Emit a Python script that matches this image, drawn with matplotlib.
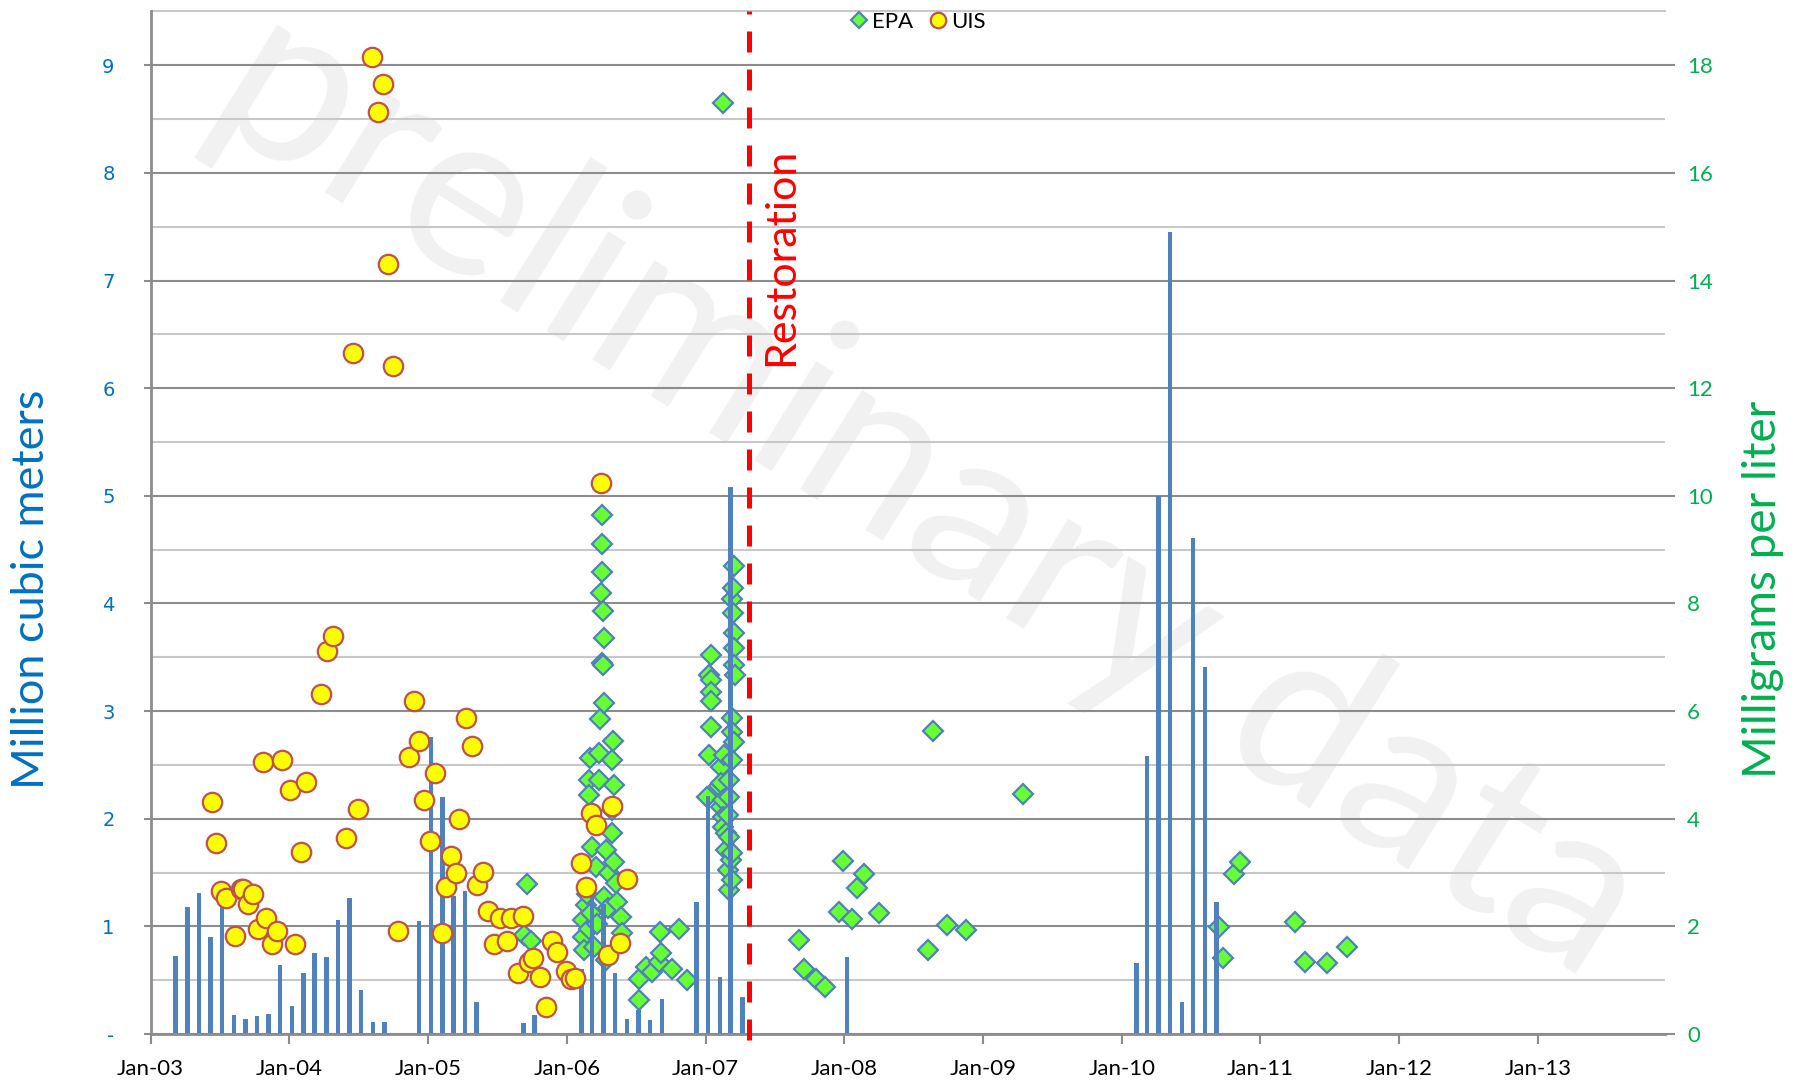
import matplotlib
matplotlib.use('Agg')
import matplotlib.pyplot as plt
import matplotlib.dates as mdates
from matplotlib.ticker import MultipleLocator, FuncFormatter
import pandas as pd

plt.rcParams['font.family'] = ['Lato', 'DejaVu Sans']

# --- Monthly volume, million cubic meters (left axis) ---
bar_months = ['2003-03', '2003-04', '2003-05', '2003-06', '2003-07', '2003-08',
              '2003-09', '2003-10', '2003-11', '2003-12',
              '2004-01', '2004-02', '2004-03', '2004-04', '2004-05', '2004-06',
              '2004-07', '2004-08', '2004-09', '2004-12',
              '2005-01', '2005-02', '2005-03', '2005-04', '2005-05', '2005-09', '2005-10',
              '2006-02', '2006-03', '2006-04', '2006-05', '2006-06', '2006-07',
              '2006-08', '2006-09', '2006-12',
              '2007-01', '2007-02', '2007-03', '2007-04',
              '2008-01',
              '2010-02', '2010-03', '2010-04', '2010-05', '2010-06', '2010-07',
              '2010-08', '2010-09']
bar_values = [0.725, 1.18, 1.31, 0.90, 1.32, 0.18,
              0.14, 0.17, 0.19, 0.64,
              0.26, 0.57, 0.75, 0.72, 1.06, 1.26,
              0.41, 0.115, 0.11, 1.05,
              2.76, 2.20, 1.28, 1.33, 0.30, 0.105, 0.18,
              0.60, 1.32, 1.21, 0.57, 0.136, 0.22,
              0.13, 0.33, 1.23,
              2.21, 0.53, 5.08, 0.34,
              0.72,
              0.66, 2.58, 5.00, 7.45, 0.30, 4.61,
              3.41, 1.23]

# --- EPA samples, milligrams per liter (right axis) ---
epa_dates = ['2005-09-10', '2005-09-18', '2005-09-28',
             '2006-02-12', '2006-02-12', '2006-02-16', '2006-02-20', '2006-02-24',
             '2006-02-28', '2006-02-28', '2006-02-28', '2006-03-04', '2006-03-06',
             '2006-03-09', '2006-03-14', '2006-03-18', '2006-03-22', '2006-03-27',
             '2006-03-27', '2006-03-28', '2006-03-31', '2006-04-03', '2006-04-03',
             '2006-04-03', '2006-04-03', '2006-04-06', '2006-04-07', '2006-04-08',
             '2006-04-08', '2006-04-10', '2006-04-13', '2006-04-13', '2006-04-18',
             '2006-04-22', '2006-05-01', '2006-05-01', '2006-05-01', '2006-05-03',
             '2006-05-05', '2006-05-05', '2006-05-10', '2006-05-14', '2006-05-23',
             '2006-05-27',
             '2006-07-10', '2006-07-10', '2006-07-28', '2006-08-14', '2006-09-01',
             '2006-09-04', '2006-09-06', '2006-10-06', '2006-10-22', '2006-11-14',
             '2007-01-06', '2007-01-09', '2007-01-10', '2007-01-15', '2007-01-15',
             '2007-01-15', '2007-01-15', '2007-01-15',
             '2007-02-06', '2007-02-11', '2007-02-11', '2007-02-11', '2007-02-15',
             '2007-02-15', '2007-02-15', '2007-02-15', '2007-02-19', '2007-02-24',
             '2007-02-24', '2007-02-28', '2007-02-28',
             '2007-03-04', '2007-03-04', '2007-03-04', '2007-03-04', '2007-03-08',
             '2007-03-12', '2007-03-12', '2007-03-12', '2007-03-12', '2007-03-12',
             '2007-03-12', '2007-03-14', '2007-03-14', '2007-03-16', '2007-03-16',
             '2007-03-16', '2007-03-16', '2007-03-16', '2007-03-19',
             '2007-09-03', '2007-09-18', '2007-10-18', '2007-11-12', '2007-12-18',
             '2007-12-30', '2008-01-21', '2008-02-05', '2008-02-23', '2008-04-03',
             '2008-08-08', '2008-08-23', '2008-09-29', '2008-11-16', '2009-04-17',
             '2010-09-13', '2010-09-25', '2010-10-23', '2010-11-07',
             '2011-04-01', '2011-04-28', '2011-06-25', '2011-08-18']
epa_values = [1.84, 2.78, 1.72,
              2.12, 1.81, 1.56, 2.40, 2.60,
              4.72, 4.44, 1.96, 5.12, 2.25,
              3.48, 1.62, 3.11, 2.05, 5.23,
              4.72, 5.85, 8.20, 9.65, 9.11,
              8.59, 6.89, 7.86, 6.85, 7.35,
              6.15, 2.55, 3.42, 1.38, 2.34,
              3.00, 5.09, 4.16, 3.73, 5.45,
              4.63, 3.20, 2.80, 2.45, 2.18,
              1.87,
              1.02, 0.64, 1.25, 1.16, 1.34,
              1.90, 1.50, 1.20, 1.96, 1.00,
              4.41, 5.19, 6.67, 7.04, 6.58,
              6.36, 6.18, 5.71,
              4.60, 4.97, 4.66, 4.22, 17.30,
              4.35, 4.04, 3.85, 5.19, 3.73,
              3.42, 4.07, 3.05,
              4.72, 4.41, 3.67, 2.68, 3.23,
              8.09, 5.87, 5.62, 5.09, 3.36,
              2.86, 8.28, 7.82, 8.69, 7.45,
              7.17, 6.86, 5.43, 6.67,
              1.75, 1.21, 1.02, 0.87, 2.26,
              3.22, 2.13, 2.71, 2.97, 2.24,
              1.56, 5.64, 2.03, 1.94, 4.46,
              1.98, 1.41, 2.97, 3.20,
              2.09, 1.34, 1.32, 1.62]

# --- UIS samples, milligrams per liter (right axis) ---
uis_dates = ['2003-06-12', '2003-06-23', '2003-07-05', '2003-07-19', '2003-08-11',
             '2003-08-27', '2003-09-01', '2003-09-14', '2003-09-28', '2003-10-11',
             '2003-10-25', '2003-11-01', '2003-11-16', '2003-11-30', '2003-12-13',
             '2004-01-04', '2004-01-17', '2004-01-31', '2004-02-14', '2004-03-25',
             '2004-04-10', '2004-04-24', '2004-05-29', '2004-06-17', '2004-07-01',
             '2004-08-06', '2004-08-21', '2004-09-03', '2004-09-17', '2004-09-29',
             '2004-10-13', '2004-11-11', '2004-11-24', '2004-12-08', '2004-12-22',
             '2005-01-06', '2005-01-18', '2005-02-05', '2005-02-17', '2005-03-02',
             '2005-03-15', '2005-03-23', '2005-04-11', '2005-04-26', '2005-05-09',
             '2005-05-25', '2005-06-08', '2005-06-22', '2005-07-09', '2005-07-27',
             '2005-08-06', '2005-08-24', '2005-09-07', '2005-09-22', '2005-10-03',
             '2005-10-23', '2005-11-08', '2005-11-22', '2005-12-06', '2005-12-29',
             '2006-01-11', '2006-01-23', '2006-02-07', '2006-02-20', '2006-03-06',
             '2006-03-18', '2006-03-31', '2006-04-18', '2006-05-01', '2006-05-20',
             '2006-06-09']
uis_values = [4.31, 3.55, 2.65, 2.52, 1.82,
              2.70, 2.69, 2.41, 2.60, 1.95,
              5.06, 2.16, 1.67, 1.91, 5.10,
              4.53, 1.67, 3.38, 4.68, 6.31,
              7.11, 7.40, 3.64, 12.65, 4.18,
              18.15, 17.14, 17.66, 14.31, 12.41,
              1.92, 5.14, 6.19, 5.44, 4.35,
              3.59, 4.85, 1.87, 2.74, 3.31,
              2.99, 4.00, 5.88, 5.35, 2.77,
              3.01, 2.29, 1.67, 2.16, 1.72,
              2.16, 1.13, 2.20, 1.34, 1.41,
              1.06, 0.51, 1.72, 1.52, 1.18,
              1.02, 1.04, 3.17, 2.74, 4.11,
              3.88, 10.24, 1.46, 4.24, 1.69,
              2.89]

restoration_date = '2007-04-26'

blue = '#0070C0'
green = '#00B050'
grid_dark = '#8C8C8C'
grid_light = '#C8C8C8'

fig = plt.figure(figsize=(18.04, 10.83), dpi=100)
fig.patch.set_facecolor('white')
rect = [0.0835, 0.0452, 0.8394, 0.9442]
ax = fig.add_axes(rect)
ax2 = ax.twinx()   # right axis, grid + EPA
ax3 = ax.twinx()   # UIS circles on top
ax2.set_zorder(1)
ax.set_zorder(2)
ax3.set_zorder(3)
for a in (ax, ax2, ax3):
    a.patch.set_visible(False)

# watermark behind everything
fig.text(0.515, 0.545, 'preliminary data', fontsize=166, color='#F1F1F1',
         rotation=-32, ha='center', va='center', zorder=0.5,
         rotation_mode='anchor')

# --- right axis: grid and EPA diamonds ---
epa_x = pd.to_datetime(epa_dates)
ax2.plot(epa_x, epa_values, linestyle='none', marker='D', markersize=10.5,
         markerfacecolor='#66FF33', markeredgecolor='#4F81BD',
         markeredgewidth=1.6, label='EPA')
ax2.set_ylim(0, 19)
ax2.yaxis.set_major_locator(MultipleLocator(2))
ax2.yaxis.set_minor_locator(MultipleLocator(1))
ax2.grid(True, which='major', axis='y', color=grid_dark, lw=1.5)
ax2.grid(True, which='minor', axis='y', color=grid_light, lw=1.5)
ax2.set_axisbelow(True)
ax2.tick_params(axis='y', which='major', direction='out', length=7, width=1.5,
                color=grid_dark, labelcolor=green, labelsize=16, pad=9)
ax2.tick_params(axis='y', which='minor', length=0)
for s in ('left', 'right', 'bottom'):
    ax2.spines[s].set_visible(False)
ax2.spines['top'].set_color(grid_light)
ax2.spines['top'].set_linewidth(1.5)

# --- left axis: monthly volumes ---
bar_x = pd.to_datetime(bar_months) + pd.Timedelta(days=7)
ax.bar(bar_x, bar_values, width=12, color='#4F81BD', zorder=2)
ax.set_ylim(0, 9.5)
ax.yaxis.set_major_locator(MultipleLocator(1))
ax.yaxis.set_major_formatter(FuncFormatter(lambda v, p: '-' if v == 0 else '%d' % v))
ax.tick_params(axis='y', direction='out', length=5, width=1.5, color=grid_dark,
               labelcolor=blue, labelsize=14, pad=21)
for lab in ax.get_yticklabels():
    lab.set_fontfamily('DejaVu Sans')
ax.xaxis.set_major_locator(mdates.YearLocator())
ax.xaxis.set_major_formatter(mdates.DateFormatter('%b-%y'))
ax.tick_params(axis='x', direction='out', length=7, width=1.5, color=grid_dark,
               labelsize=16, pad=11)
ax.set_xlim(pd.Timestamp('2003-01-01'), pd.Timestamp('2013-12-01'))
ax.spines['top'].set_visible(False)
ax.spines['right'].set_visible(False)
ax.spines['left'].set_color(grid_dark)
ax.spines['bottom'].set_color(grid_dark)
ax.spines['left'].set_linewidth(2)
ax.spines['bottom'].set_linewidth(2)

# restoration marker
ax.axvline(pd.Timestamp(restoration_date), ymin=-0.006, ymax=1, color='red', lw=3.6,
           dashes=(4.2, 3.4), clip_on=False, zorder=3)
ax.text(pd.Timestamp('2007-07-18'), 7.22, 'Restoration', rotation=90, color='red',
        fontsize=31, ha='center', va='center')

# --- UIS circles ---
uis_x = pd.to_datetime(uis_dates)
ax3.plot(uis_x, uis_values, linestyle='none', marker='o', markersize=14,
         markerfacecolor='#FFFF00', markeredgecolor='#C0504D',
         markeredgewidth=1.6, label='UIS')
ax3.set_ylim(0, 19)
ax3.set_axis_off()
ax3.set_xlim(ax.get_xlim())

# axis titles
fig.text(0.0172, 0.456, 'Million cubic meters', rotation=90, color=blue,
         fontsize=32.5, ha='center', va='center')
fig.text(0.977, 0.456, 'Milligrams per liter', rotation=90, color=green,
         fontsize=33, ha='center', va='center')

h1, l1 = ax2.get_legend_handles_labels()
h2, l2 = ax3.get_legend_handles_labels()
fig.legend(h1 + h2, l1 + l2, loc='center', bbox_to_anchor=(0.508, 0.980), ncol=2,
           frameon=False, fontsize=16, handletextpad=0.1, columnspacing=0.6,
           markerscale=0.8, handlelength=1.0)

fig.savefig('out.png', dpi=100, facecolor='white')
